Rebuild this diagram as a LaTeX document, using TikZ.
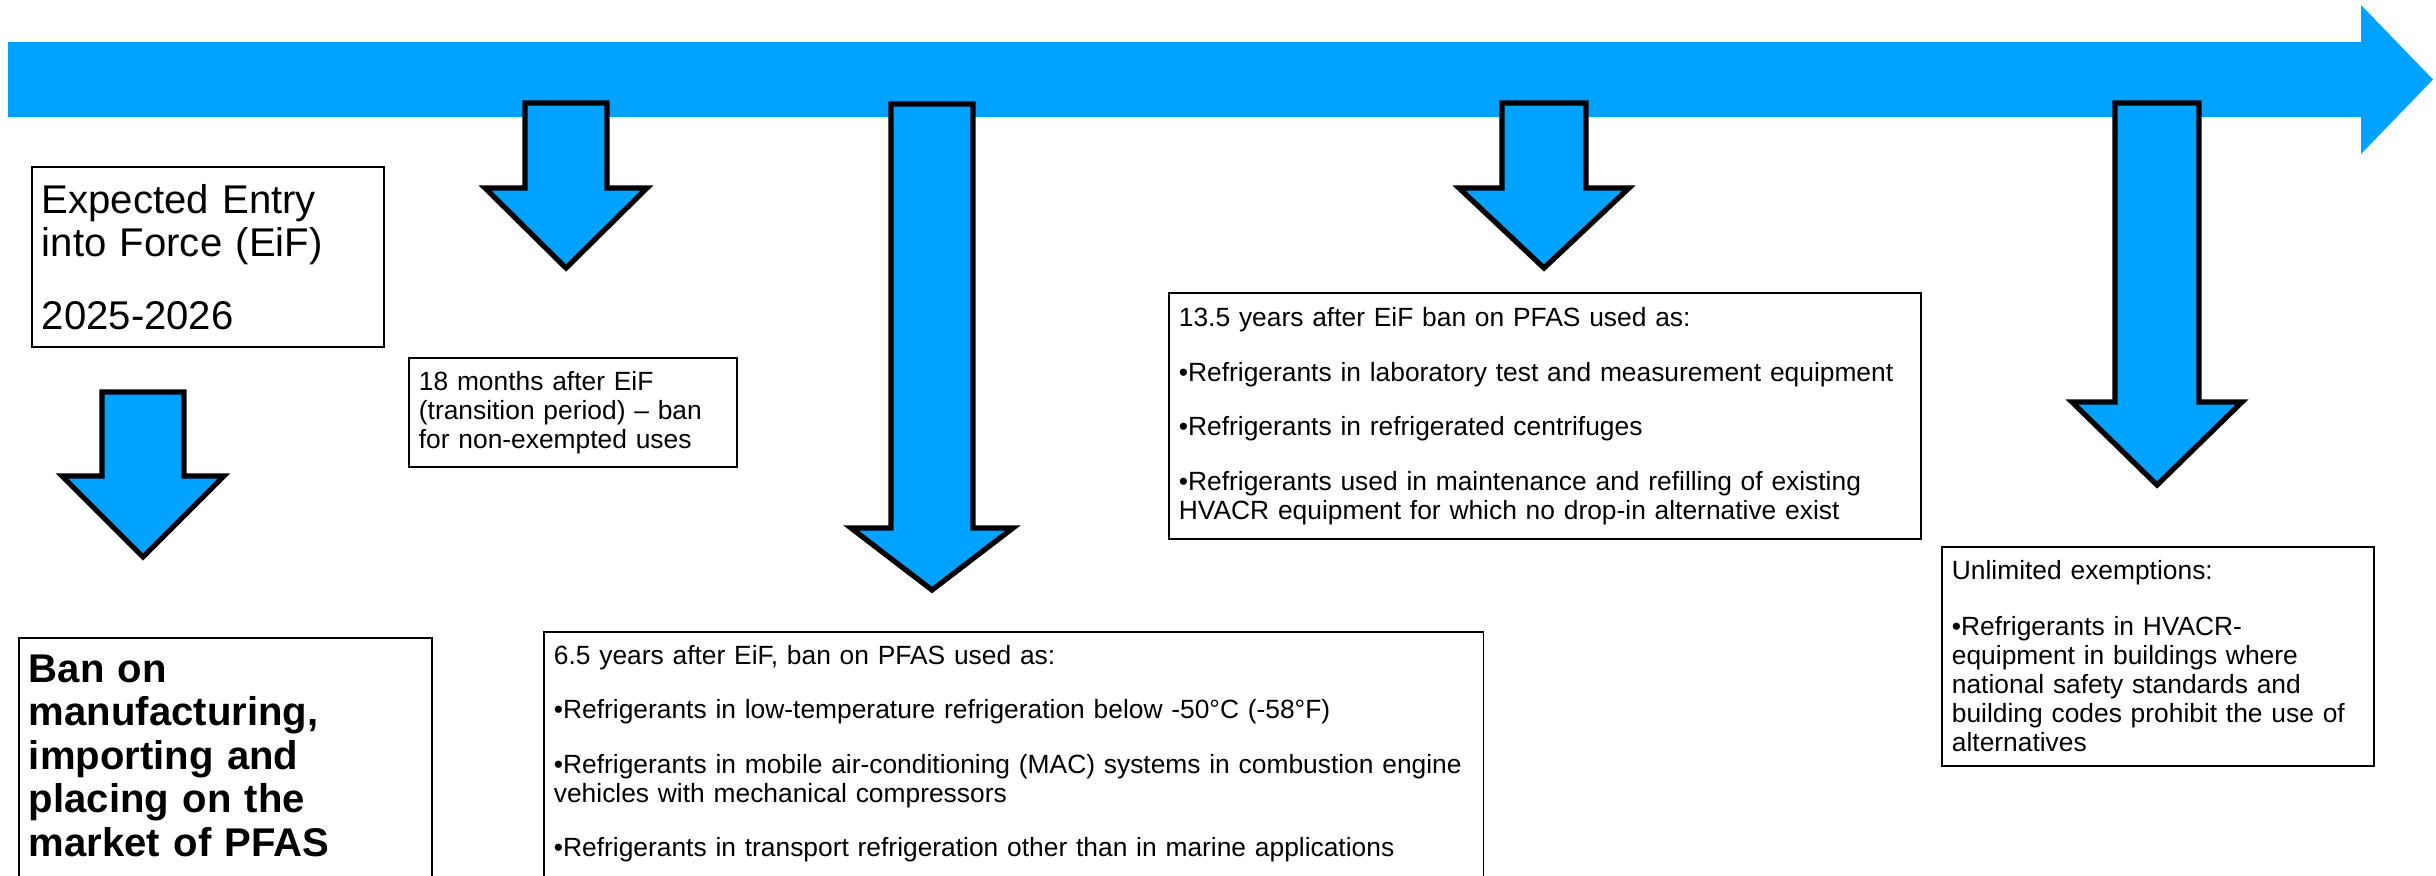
\documentclass[tikz,border=0pt]{standalone}
\usepackage{fontspec}
\setmainfont{Liberation Sans}
\definecolor{timeblue}{RGB}{0,162,255}
\newcommand{\droparrow}[6]{\draw[arrowbody] (#1-#3,#2) -- (#1+#3,#2) -- (#1+#3,#4) -- (#1+#5,#4) -- (#1,#6) -- (#1-#5,#4) -- (#1-#3,#4) -- cycle;}

\begin{document}
\begin{tikzpicture}[x=0.01cm, y=-0.01cm,
	every node/.style={rectangle, draw, line width=0.5pt, anchor=north west, align=left, inner xsep=0.1cm},
	small/.style={font=\fontsize{7.5}{8.25}\selectfont},
	large/.style={font=\fontsize{11.4}{12.35}\selectfont},
	largebold/.style={font=\fontsize{11.4}{12.35}\selectfont\bfseries},
	arrowbody/.style={fill=timeblue, draw=black, line width=1.5pt, line join=miter}]
				\useasboundingbox (0,0) rectangle (2436,875);
				\clip (0,0) rectangle (2436,875);
				
				\fill[timeblue] (8,42) -- (2361,42) -- (2361,5) -- (2433,79.5) -- (2361,154) -- (2361,117) -- (8,117) -- cycle;
				
				\droparrow{566}{103}{41}{188}{81}{268}
				\droparrow{143}{392}{41}{476}{81}{557}
				\droparrow{932}{104}{41}{528}{81}{590}
				\droparrow{1544}{103}{42}{188}{85}{268}
				\droparrow{2157}{103}{42}{402}{85}{485}
				
				\node[large, text width=3.32cm, minimum height=1.8cm] (eif) at (31,166) {Expected Entry\\into Force (EiF)\\[8.15pt]2025-2026};
				\node[small, text width=3.08cm, minimum height=1.09cm] (months) at (408,357) {18 months after EiF\\(transition period) – ban\\for non-exempted uses};
				\node[largebold, text width=3.93cm, inner ysep=0.17cm, text depth=3cm] (ban) at (18,637) {Ban on\\manufacturing,\\importing and\\placing on the\\market of PFAS};
				\node[small, text width=9.19cm, inner ysep=0.13cm, text depth=3cm] (sixyears) at (543,631) {6.5 years after EiF, ban on PFAS used as:\\[7.25pt]•Refrigerants in low-temperature refrigeration below -50°C (-58°F)\\[7.25pt]•Refrigerants in mobile air-conditioning (MAC) systems in combustion engine\\vehicles with mechanical compressors\\[7.25pt]•Refrigerants in transport refrigeration other than in marine applications};
				\node[small, text width=7.32cm, minimum height=2.46cm] (thirteen) at (1168,292) {13.5 years after EiF ban on PFAS used as:\\[7.25pt]•Refrigerants in laboratory test and measurement equipment\\[7.25pt]•Refrigerants in refrigerated centrifuges\\[7.25pt]•Refrigerants used in maintenance and refilling of existing\\HVACR equipment for which no drop-in alternative exist};
				\node[small, text width=4.12cm, minimum height=2.19cm] (unlimited) at (1941,546) {Unlimited exemptions:\\[7.7pt]•Refrigerants in HVACR-\\equipment in buildings where\\national safety standards and\\building codes prohibit the use of\\alternatives};
\end{tikzpicture}
\end{document}
